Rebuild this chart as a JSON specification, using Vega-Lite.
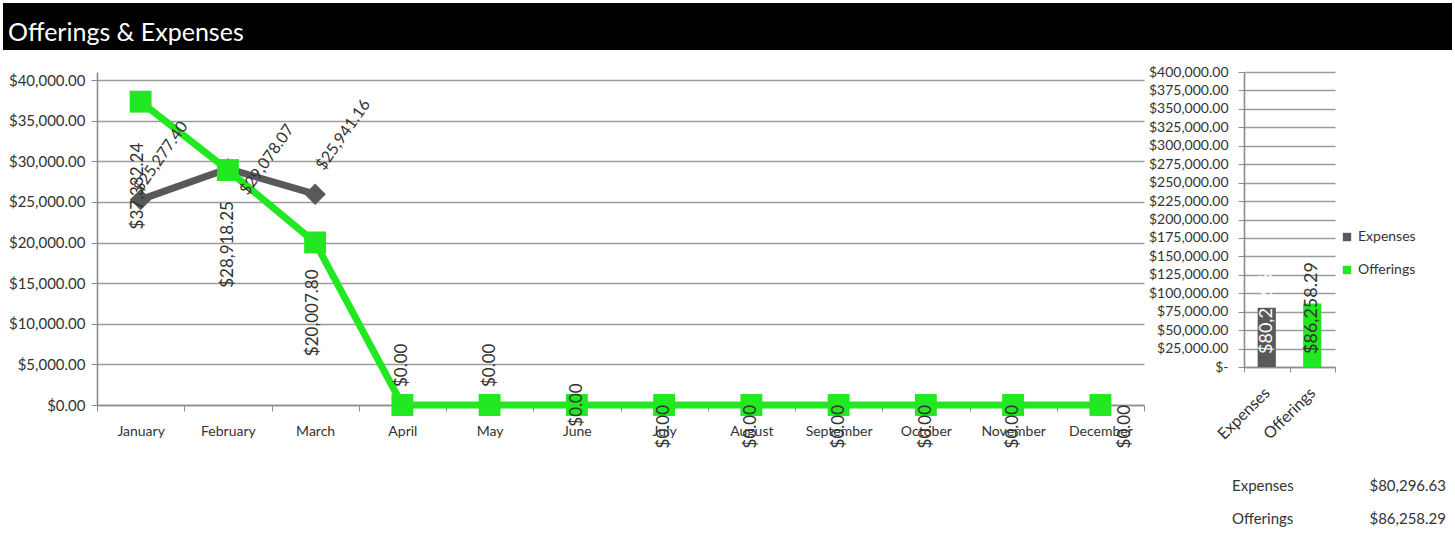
{
  "$schema": "https://vega.github.io/schema/vega-lite/v6.json",
  "background": "white",
  "padding": {"left": 3, "top": 3, "right": 0, "bottom": 0},
  "columns": 1,
  "align": "none",
  "spacing": 15,
  "config": {
    "font": "Lato",
    "view": {"stroke": null},
    "axis": {
      "labelFontSize": 14,
      "labelColor": "#333333",
      "domainColor": "#8c8c8c",
      "tickColor": "#8c8c8c",
      "gridColor": "#9c9c9c",
      "gridWidth": 1.6,
      "domainWidth": 1.6,
      "tickSize": 6,
      "title": null
    },
    "text": {"color": "#333333"}
  },
  "datasets": {
    "monthly": [
      {"month": "January", "series": "Expenses", "amount": 25277.40},
      {"month": "February", "series": "Expenses", "amount": 29078.07},
      {"month": "March", "series": "Expenses", "amount": 25941.16},
      {"month": "January", "series": "Offerings", "amount": 37332.24},
      {"month": "February", "series": "Offerings", "amount": 28918.25},
      {"month": "March", "series": "Offerings", "amount": 20007.80},
      {"month": "April", "series": "Offerings", "amount": 0},
      {"month": "May", "series": "Offerings", "amount": 0},
      {"month": "June", "series": "Offerings", "amount": 0},
      {"month": "July", "series": "Offerings", "amount": 0},
      {"month": "August", "series": "Offerings", "amount": 0},
      {"month": "September", "series": "Offerings", "amount": 0},
      {"month": "October", "series": "Offerings", "amount": 0},
      {"month": "November", "series": "Offerings", "amount": 0},
      {"month": "December", "series": "Offerings", "amount": 0}
    ],
    "totals": [
      {"series": "Expenses", "total": 80296.63},
      {"series": "Offerings", "total": 86258.29}
    ]
  },
  "concat": [
    {
      "width": 1355,
      "height": 47,
      "data": {"values": [{"bar": "heading"}]},
      "mark": {"type": "rect", "color": "black"},
      "encoding": {
        "x": {"datum": 0, "type": "quantitative", "scale": {"domain": [0, 1], "range": [-94, 1355]}, "axis": null},
        "x2": {"datum": 1}
      },
      "title": {
        "text": "Offerings & Expenses",
        "anchor": "start",
        "frame": "bounds",
        "orient": "top",
        "offset": -43,
        "dx": 5,
        "color": "white",
        "font": "Lato",
        "fontSize": 25,
        "fontWeight": "normal"
      }
    },
    {
      "hconcat": [
        {
          "width": 1047,
          "height": 333,
          "data": {"name": "monthly"},
          "encoding": {
            "x": {
              "field": "month",
              "type": "nominal",
              "sort": ["January", "February", "March", "April", "May", "June", "July", "August", "September", "October", "November", "December"],
              "scale": {"type": "band", "paddingInner": 0, "paddingOuter": 0},
              "axis": {"labelAngle": 0, "tickBand": "extent", "labelPadding": 13, "grid": false}
            },
            "y": {
              "field": "amount",
              "type": "quantitative",
              "scale": {"domain": [0, 40985], "nice": false},
              "axis": {
                "values": [0, 5000, 10000, 15000, 20000, 25000, 30000, 35000, 40000],
                "format": "$,.2f",
                "labelFontSize": 15,
                "labelPadding": 6,
                "minExtent": 94
              }
            }
          },
          "layer": [
            {
              "transform": [{"filter": "datum.series == 'Expenses'"}],
              "mark": {
                "type": "line",
                "color": "#595959",
                "strokeWidth": 7,
                "point": {"shape": "diamond", "size": 460, "filled": true, "color": "#595959"}
              }
            },
            {
              "transform": [{"filter": "datum.series == 'Offerings'"}],
              "mark": {
                "type": "line",
                "color": "#22e822",
                "strokeWidth": 7,
                "point": {"shape": "square", "size": 480, "filled": true, "color": "#22e822"}
              }
            },
            {
              "transform": [{"filter": "datum.series == 'Expenses' && datum.month == 'January'"}],
              "mark": {"type": "text", "angle": 305, "align": "left", "baseline": "middle", "dx": 6, "dy": -8, "fontSize": 16},
              "encoding": {"text": {"field": "amount", "format": "$,.2f"}}
            },
            {
              "transform": [{"filter": "datum.series == 'Expenses' && datum.month == 'February'"}],
              "mark": {"type": "text", "angle": 305, "align": "left", "baseline": "middle", "dx": -11, "dy": 27, "fontSize": 16},
              "encoding": {"text": {"field": "amount", "format": "$,.2f"}}
            },
            {
              "transform": [{"filter": "datum.series == 'Expenses' && datum.month == 'March'"}],
              "mark": {"type": "text", "angle": 305, "align": "left", "baseline": "middle", "dx": 24, "dy": -11, "fontSize": 16},
              "encoding": {"text": {"field": "amount", "format": "$,.2f"}}
            },
            {
              "transform": [{"filter": "datum.series == 'Offerings' && datum.month == 'January'"}],
              "mark": {"type": "text", "angle": 270, "align": "right", "baseline": "middle", "dx": -41, "dy": -3, "fontSize": 17},
              "encoding": {"text": {"field": "amount", "format": "$,.2f"}}
            },
            {
              "transform": [{"filter": "datum.series == 'Offerings' && datum.month == 'February'"}],
              "mark": {"type": "text", "angle": 270, "align": "right", "baseline": "middle", "dx": -31, "fontSize": 17},
              "encoding": {"text": {"field": "amount", "format": "$,.2f"}}
            },
            {
              "transform": [{"filter": "datum.series == 'Offerings' && datum.month == 'March'"}],
              "mark": {"type": "text", "angle": 270, "align": "right", "baseline": "middle", "dx": -27, "dy": -2, "fontSize": 17},
              "encoding": {"text": {"field": "amount", "format": "$,.2f"}}
            },
            {
              "transform": [{"filter": "datum.month == 'April' || datum.month == 'May'"}],
              "mark": {"type": "text", "angle": 270, "align": "left", "baseline": "middle", "dx": 18, "fontSize": 17},
              "encoding": {"text": {"field": "amount", "format": "$,.2f"}}
            },
            {
              "transform": [{"filter": "datum.month == 'June'"}],
              "mark": {"type": "text", "angle": 270, "align": "center", "baseline": "middle", "fontSize": 17},
              "encoding": {"text": {"field": "amount", "format": "$,.2f"}}
            },
            {
              "transform": [{"filter": {"field": "month", "oneOf": ["July", "August", "September", "October", "November"]}}],
              "mark": {"type": "text", "angle": 270, "align": "right", "baseline": "middle", "dx": 0, "fontSize": 17},
              "encoding": {"text": {"field": "amount", "format": "$,.2f"}}
            },
            {
              "transform": [{"filter": "datum.month == 'December'"}],
              "mark": {"type": "text", "angle": 270, "align": "right", "baseline": "middle", "dx": 0, "dy": 25, "fontSize": 17},
              "encoding": {"text": {"field": "amount", "format": "$,.2f"}}
            }
          ]
        },
        {
          "width": 91,
          "height": 295,
          "data": {"name": "totals"},
          "encoding": {
            "x": {
              "field": "series",
              "type": "nominal",
              "scale": {"paddingInner": 0, "paddingOuter": 0},
              "axis": {"labelAngle": -45, "labelAlign": "right", "labelBaseline": "middle", "tickBand": "extent", "labelPadding": 18, "labelFontSize": 16, "tickSize": 5}
            }
          },
          "layer": [
            {
              "mark": {"type": "bar", "width": {"band": 0.4}},
              "encoding": {
                "y": {
                  "field": "total",
                  "type": "quantitative",
                  "scale": {"domain": [0, 400000]},
                  "axis": {
                    "values": [0, 25000, 50000, 75000, 100000, 125000, 150000, 175000, 200000, 225000, 250000, 275000, 300000, 325000, 350000, 375000, 400000],
                    "labelExpr": "datum.value == 0 ? '$-' : format(datum.value, '$,.2f')",
                    "labelOverlap": false,
                    "labelPadding": 10,
                    "tickSize": 6
                  }
                },
                "color": {
                  "field": "series",
                  "type": "nominal",
                  "scale": {"domain": ["Expenses", "Offerings"], "range": ["#595959", "#22e822"]},
                  "legend": {
                    "title": null,
                    "orient": "none",
                    "legendX": 96,
                    "legendY": 158,
                    "symbolType": "square",
                    "symbolSize": 70,
                    "labelFontSize": 14,
                    "labelColor": "#333333",
                    "rowPadding": 19
                  }
                }
              }
            },
            {
              "mark": {"type": "text", "angle": 270, "align": "left", "baseline": "middle", "dx": 13, "fontSize": 18},
              "encoding": {
                "y": {
                  "datum": 0,
                  "type": "quantitative",
                  "axis": {
                    "values": [0, 25000, 50000, 75000, 100000, 125000, 150000, 175000, 200000, 225000, 250000, 275000, 300000, 325000, 350000, 375000, 400000],
                    "labelExpr": "datum.value == 0 ? '$-' : format(datum.value, '$,.2f')",
                    "labelOverlap": false,
                    "labelPadding": 10,
                    "tickSize": 6
                  }
                },
                "text": {"field": "total", "format": "$,.2f"},
                "color": {"condition": {"test": "datum.series == 'Expenses'", "value": "white"}, "value": "#333333"}
              }
            }
          ]
        }
      ],
      "spacing": 3,
      "resolve": {"legend": {"color": "independent"}}
    },
    {
      "width": 1355,
      "height": 66,
      "data": {"name": "totals"},
      "encoding": {
        "y": {"field": "series", "type": "nominal", "scale": {"type": "point", "range": [22, 55], "padding": 0}, "axis": null}
      },
      "layer": [
        {
          "mark": {"type": "text", "align": "left", "baseline": "middle", "fontSize": 15},
          "encoding": {
            "x": {"datum": "name", "type": "nominal", "scale": {"type": "point", "domain": ["name", "amount"], "range": [1135, 1349], "padding": 0}, "axis": null},
            "text": {"field": "series"}
          }
        },
        {
          "mark": {"type": "text", "align": "right", "baseline": "middle", "fontSize": 15},
          "encoding": {
            "x": {"datum": "amount", "type": "nominal"},
            "text": {"field": "total", "format": "$,.2f"}
          }
        }
      ]
    }
  ]
}
